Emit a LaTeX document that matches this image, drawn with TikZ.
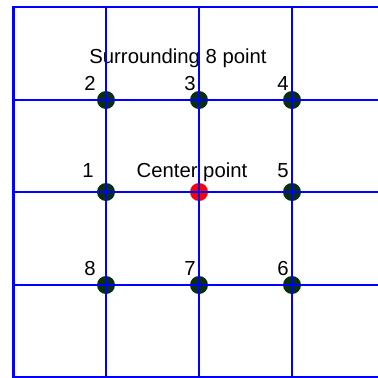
\documentclass[tikz,border=0pt]{standalone}
\usepackage{fontspec}
\setmainfont{Liberation Sans}
\definecolor{dotgreen}{RGB}{8,48,12}
\definecolor{gridblue}{RGB}{0,0,255}
\begin{document}
\begin{tikzpicture}[x=1pt,y=-1pt,
  gridline/.style={draw=gridblue,line width=1.5pt},
  border/.style={draw=gridblue,line width=2.2pt},
  dot/.style={circle,fill=dotgreen,minimum size=18pt,inner sep=0pt},
  cdot/.style={circle,fill=red,minimum size=18pt,inner sep=0pt},
  lbl/.style={anchor=base,inner sep=0pt,font=\fontsize{20.3}{23}\selectfont}]
\fill[white] (0,0) rectangle (378,378);
\useasboundingbox (0,0) rectangle (378,378);
% dots
\node[dot] (p2) at (106,100) {};
\node[dot] (p3) at (199,100) {};
\node[dot] (p4) at (292,100) {};
\node[dot] (p1) at (106,192) {};
\node[cdot] (pc) at (199,192) {};
\node[dot] (p5) at (292,192) {};
\node[dot] (p8) at (106,285) {};
\node[dot] (p7) at (199,285) {};
\node[dot] (p6) at (292,285) {};
% labels
\node[lbl] (tsur) at (178,63.5) {Surrounding 8 point};
\node[lbl] (t2) at (90,90) {2};
\node[lbl] (t3) at (190,90) {3};
\node[lbl] (t4) at (283,90) {4};
\node[lbl] (t1) at (88,177.5) {1};
\node[lbl] (tc) at (192,177.5) {Center point};
\node[lbl] (t5) at (283,177.5) {5};
\node[lbl] (t8) at (90,275) {8};
\node[lbl] (t7) at (190,275) {7};
\node[lbl] (t6) at (283,275) {6};
% grid
\foreach \x in {106,199,292} \draw[gridline] (\x,7) -- (\x,377);
\foreach \y in {100,192,285} \draw[gridline] (13.5,\y) -- (378,\y);
\draw[border] (378,7) -- (13.5,7) -- (13.5,377) -- (378,377);
\end{tikzpicture}
\end{document}
